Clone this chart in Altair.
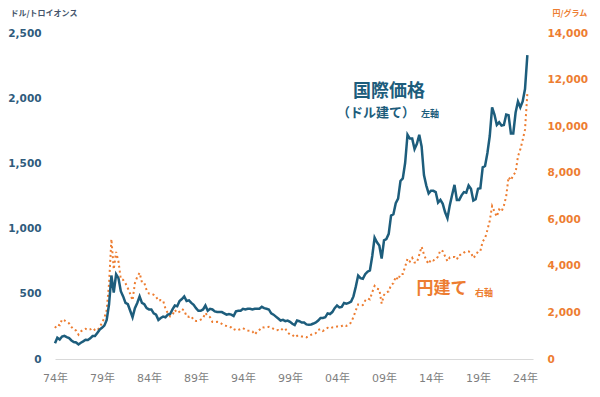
import altair as alt
import pandas as pd

start_year = 1974
step = 0.25  # quarterly

usd = [
    120, 163, 150, 172,
    178, 168, 160, 142,
    130, 127, 112, 125,
    135, 147, 146, 158,
    176, 176, 200, 225,
    240, 256, 300, 420,
    640, 510, 650, 620,
    520, 480, 430, 420,
    370, 320, 390, 430,
    480, 430, 420, 390,
    380, 380, 350, 340,
    300, 315, 325, 320,
    340, 345, 380, 410,
    405, 445, 460, 480,
    445, 450, 430, 415,
    390, 370, 370, 380,
    410, 370, 385, 380,
    365, 360, 360, 360,
    350, 340, 345, 340,
    330, 365, 370, 370,
    385, 380, 385, 385,
    380, 385, 385, 385,
    400, 390, 385, 380,
    350, 340, 325, 310,
    295, 300, 290, 295,
    285, 270, 260, 295,
    290, 280, 280, 265,
    262, 265, 272, 280,
    295, 315, 315, 320,
    350, 345, 360, 390,
    410, 395, 400, 430,
    425, 430, 440, 480,
    555, 640, 620, 615,
    650, 670, 680, 790,
    930, 895, 870, 770,
    910, 920, 960, 1100,
    1110, 1195, 1230, 1365,
    1385, 1505, 1720, 1690,
    1690, 1610, 1650, 1720,
    1630, 1410, 1330, 1270,
    1290, 1290, 1280, 1200,
    1220, 1190, 1125, 1080,
    1180, 1260, 1335, 1220,
    1220, 1255, 1280, 1275,
    1330, 1305, 1215, 1225,
    1305, 1310, 1470, 1480,
    1580, 1710, 1930, 1875,
    1795, 1815, 1790, 1795,
    1875, 1870, 1730, 1730,
    1890, 1975, 1930, 1975,
    2070, 2330,
]

jpy = [
    1330, 1480, 1450, 1700,
    1660, 1570, 1530, 1380,
    1260, 1220, 1045, 1185,
    1260, 1300, 1250, 1270,
    1330, 1245, 1220, 1375,
    1545, 1770, 2100, 3240,
    5150, 3850, 4600, 4190,
    3430, 3400, 3250, 3040,
    2800, 2520, 3260, 3525,
    3700, 3290, 3270, 2950,
    2810, 2810, 2760, 2680,
    2500, 2530, 2510, 2160,
    1970, 1830, 1890, 2110,
    1980, 2030, 2145, 2085,
    1830, 1810, 1840, 1670,
    1630, 1640, 1690, 1750,
    1980, 1845, 1795, 1590,
    1585, 1600, 1575, 1505,
    1440, 1420, 1385, 1355,
    1250, 1290, 1250, 1285,
    1325, 1260, 1225, 1215,
    1185, 1050, 1175, 1250,
    1365, 1355, 1360, 1380,
    1350, 1290, 1235, 1245,
    1215, 1320, 1305, 1140,
    1055, 1040, 935, 995,
    1005, 965, 965, 930,
    995, 1040, 1060, 1115,
    1250, 1285, 1205, 1265,
    1340, 1310, 1355, 1365,
    1395, 1385, 1415, 1465,
    1420, 1480, 1570, 1805,
    2090, 2345, 2310, 2315,
    2510, 2605, 2560, 2870,
    3140, 3020, 2995, 2380,
    2750, 2870, 2900, 3185,
    3250, 3535, 3400, 3645,
    3650, 3970, 4310, 4185,
    4345, 4140, 4140, 4480,
    4820, 4490, 4235, 4085,
    4270, 4230, 4280, 4400,
    4670, 4630, 4410, 4200,
    4365, 4375, 4380, 4275,
    4470, 4480, 4570, 4630,
    4620, 4575, 4335, 4450,
    4615, 4635, 5055, 5185,
    5540, 5940, 6570, 6330,
    6115, 6420, 6330, 6580,
    6990, 7815, 7675, 7900,
    8020, 8700, 9000, 9400,
    9850, 11400,
]

x_ticks = [1974, 1979, 1984, 1989, 1994, 1999, 2004, 2009, 2014, 2019, 2024]
usd_ticks = [0, 500, 1000, 1500, 2000, 2500]
jpy_ticks = [0, 2000, 4000, 6000, 8000, 10000, 12000, 14000]

df = pd.DataFrame({
    "t": [start_year + i * step for i in range(len(usd))],
    "usd": usd,
    "jpy": jpy,
})

BLUE = "#1d5d7c"
BLUE_LBL = "#2f5b7c"
ORANGE = "#ed7d31"
FONT = "DejaVu Sans, Noto Sans CJK JP"
JFONT = "Noto Sans CJK JP"

xenc = alt.X(
    "t:Q",
    scale=alt.Scale(domain=[1974, 2024.85], nice=False, zero=False),
    axis=alt.Axis(
        values=x_ticks,
        labelExpr="substring(toString(datum.value), 2, 4) + '年'",
        grid=False, ticks=False, domainColor="#d9d9d9", domainWidth=1,
        labelColor="#7f7f7f", labelFontSize=11, labelPadding=13,
        labelFont=FONT, labelFlush=False, labelOverlap=False, title=None,
    ),
)

jpy_line = alt.Chart(df).mark_line(
    color=ORANGE, strokeWidth=2, strokeDash=[2, 3]
).encode(
    x=xenc,
    y=alt.Y(
        "jpy:Q",
        scale=alt.Scale(domain=[0, 14000], nice=False),
        axis=alt.Axis(
            orient="right", values=jpy_ticks, format=",d", grid=False,
            domain=False, ticks=False, labelColor=ORANGE, labelFontWeight="bold",
            labelFontSize=10.5, labelFont=FONT, labelPadding=14,
            title="円/グラム", titleAngle=0, titleX=19, titleY=-20,
            titleAlign="left", titleBaseline="middle", titleFontSize=8,
            titleFont=JFONT, titleColor=ORANGE, titleFontWeight="bold",
        ),
    ),
)

usd_line = alt.Chart(df).mark_line(color=BLUE, strokeWidth=2.5).encode(
    x=xenc,
    y=alt.Y(
        "usd:Q",
        scale=alt.Scale(domain=[0, 2500], nice=False),
        axis=alt.Axis(
            orient="left", values=usd_ticks, format=",d", grid=False,
            domain=False, ticks=False, labelColor=BLUE_LBL, labelFontWeight="bold",
            labelFontSize=10.5, labelFont=FONT, labelPadding=14,
            title="ドル/トロイオンス", titleAngle=0, titleX=-45, titleY=-20,
            titleAlign="left", titleBaseline="middle", titleFontSize=8,
            titleFont=JFONT, titleColor="#44546a", titleFontWeight="bold",
        ),
    ),
)

one = pd.DataFrame({"a": [0]})

def label(txt, x, y, size, color, align="center", weight="bold"):
    return alt.Chart(one).mark_text(
        text=txt, font=JFONT, fontSize=size, fontWeight=weight, color=color,
        align=align, baseline="middle",
    ).encode(x=alt.value(x), y=alt.value(y))

ann = [
    label("国際価格", 334, 59, 18, BLUE),
    label("（ドル建て）", 321, 80, 13, BLUE),
    label("左軸", 366, 81, 9, BLUE, align="left"),
    label("円建て", 387, 256, 17, ORANGE),
    label("右軸", 420, 260, 9, ORANGE, align="left"),
]

chart = alt.layer(jpy_line, usd_line, *ann).resolve_scale(y="independent").properties(
    width=478, height=326,
    autosize=alt.AutoSizeParams(type="none"),
    padding={"left": 47, "top": 25, "right": 59, "bottom": 30},
).configure_view(stroke=None)

chart.save("out.html", embed_options={"renderer": "svg", "actions": False})
